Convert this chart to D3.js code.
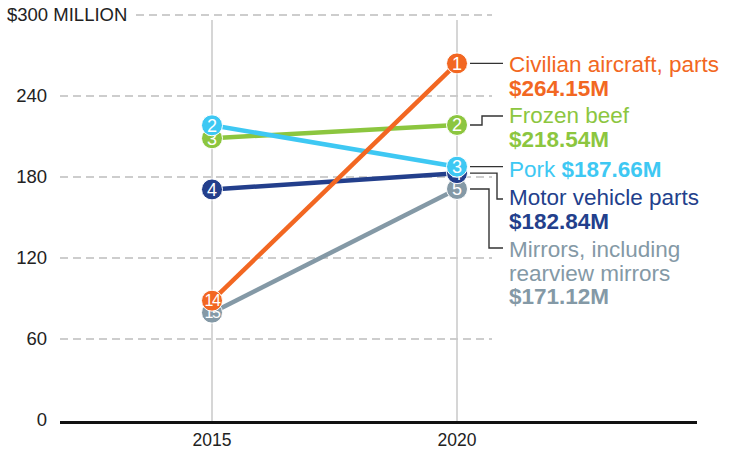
<!DOCTYPE html>
<html>
<head>
<meta charset="utf-8">
<script src="https://cdn.jsdelivr.net/npm/d3@7"></script>
<style>
  body { margin: 0; background: #fff; }
  svg { display: block; font-family: "Liberation Sans", Arial, Helvetica, sans-serif; }
</style>
</head>
<body>
<div id="chart"></div>
<script>
// data (US $ million)
var years = [2015, 2020];
var products = ["Mirrors, including rearview mirrors", "Motor vehicle parts", "Frozen beef", "Pork", "Civilian aircraft, parts"];
var values2015 = [79.5, 170.8, 208.7, 218.3, 88.4];
var values2020 = [171.12, 182.84, 218.54, 187.66, 264.15];
var ranks2015 = [15, 4, 3, 2, 14];
var ranks2020 = [5, 4, 2, 3, 1];
var labelLines = [["Mirrors, including", "rearview mirrors"], ["Motor vehicle parts"], ["Frozen beef"], ["Pork"], ["Civilian aircraft, parts"]];
var valueLabels = ["$171.12M", "$182.84M", "$218.54M", "$187.66M", "$264.15M"];
var colors = ["#8499a6", "#233f8c", "#8cc63f", "#3ec8f3", "#f26722"];
var yTicks = [0, 60, 120, 180, 240, 300];

var width = 729, height = 455;

var svg = d3.select("#chart").append("svg")
  .attr("width", width)
  .attr("height", height);

var x = d3.scalePoint().domain(years).range([212, 457]);
var y = d3.scaleLinear().domain([0, 300]).range([420, 15]);

// horizontal dashed grid
yTicks.forEach(function(t) {
  if (t === 0) return;
  svg.append("line")
    .attr("x1", t === 300 ? 136 : 60)
    .attr("x2", 492)
    .attr("y1", y(t))
    .attr("y2", y(t))
    .attr("stroke", "#bdbdbd")
    .attr("stroke-width", 1.3)
    .attr("stroke-dasharray", "8,5");
});

// tick labels
svg.selectAll(".ytick").data(yTicks).enter()
  .append("text")
  .attr("class", "ytick")
  .attr("x", function(d) { return d === 300 ? 7 : 47; })
  .attr("y", function(d) { return y(d); })
  .attr("dy", "0.35em")
  .attr("text-anchor", function(d) { return d === 300 ? "start" : "end"; })
  .attr("font-size", 18.5)
  .attr("fill", "#222")
  .text(function(d) { return d === 300 ? "$300 MILLION" : d; });

// vertical year lines
years.forEach(function(yr) {
  svg.append("line")
    .attr("x1", x(yr)).attr("x2", x(yr))
    .attr("y1", 20).attr("y2", 422)
    .attr("stroke", "#c8c8c8")
    .attr("stroke-width", 1.5);
  svg.append("text")
    .attr("x", x(yr))
    .attr("y", 446)
    .attr("text-anchor", "middle")
    .attr("font-size", 17.5)
    .attr("fill", "#222")
    .text(yr);
});

// baseline
svg.append("line")
  .attr("x1", 60).attr("x2", 697)
  .attr("y1", 422.5).attr("y2", 422.5)
  .attr("stroke", "#111")
  .attr("stroke-width", 3);

// series
products.forEach(function(p, i) {
  var pts = [[2015, values2015[i], ranks2015[i]], [2020, values2020[i], ranks2020[i]]];
  var g = svg.append("g");
  g.append("path")
    .datum(pts)
    .attr("fill", "none")
    .attr("stroke", colors[i])
    .attr("stroke-width", 4.5)
    .attr("d", d3.line().x(function(d) { return x(d[0]); }).y(function(d) { return y(d[1]); }));
  var c = g.selectAll("g.pt").data(pts).enter().append("g")
    .attr("transform", function(d) { return "translate(" + x(d[0]) + "," + y(d[1]) + ")"; });
  c.append("circle")
    .attr("r", 10.5)
    .attr("fill", colors[i])
    .attr("stroke", "#fff")
    .attr("stroke-width", 1);
  c.append("text")
    .attr("text-anchor", "middle")
    .attr("dy", "0.36em")
    .attr("font-size", function(d) { return d[2] > 9 ? 16 : 18; })
    .attr("letter-spacing", function(d) { return d[2] > 9 ? -1.5 : 0; })
    .attr("fill", "#fff")
    .text(function(d) { return d[2]; });
});

// connector lines to labels
var labelX = 509;
var labelTop = [257, 205, 123, 176.5, 72];
var connectorBend = [489, 497, 482, null, null];
var connectorEndY = [248, 199, 116, 167, 63];

products.forEach(function(p, i) {
  var cy = y(values2020[i]);
  var pts;
  if (connectorBend[i] == null) {
    pts = [[470, cy], [503, cy]];
  } else {
    pts = [[470, cy], [connectorBend[i], cy], [connectorBend[i], connectorEndY[i]], [503, connectorEndY[i]]];
  }
  svg.append("path")
    .attr("d", d3.line()(pts))
    .attr("fill", "none")
    .attr("stroke", "#333")
    .attr("stroke-width", 1.4);

  var t = svg.append("text")
    .attr("x", labelX)
    .attr("y", labelTop[i])
    .attr("font-size", 22.5)
    .attr("fill", colors[i]);
  if (p === "Pork") {
    t.append("tspan").text("Pork ");
    t.append("tspan").attr("font-weight", "bold").text(valueLabels[i]);
  } else {
    labelLines[i].forEach(function(line, k) {
      t.append("tspan").attr("x", labelX).attr("dy", k === 0 ? 0 : 23.5).text(line);
    });
    t.append("tspan").attr("x", labelX).attr("dy", 23.5).attr("font-weight", "bold").text(valueLabels[i]);
  }
});
</script>
</body>
</html>
